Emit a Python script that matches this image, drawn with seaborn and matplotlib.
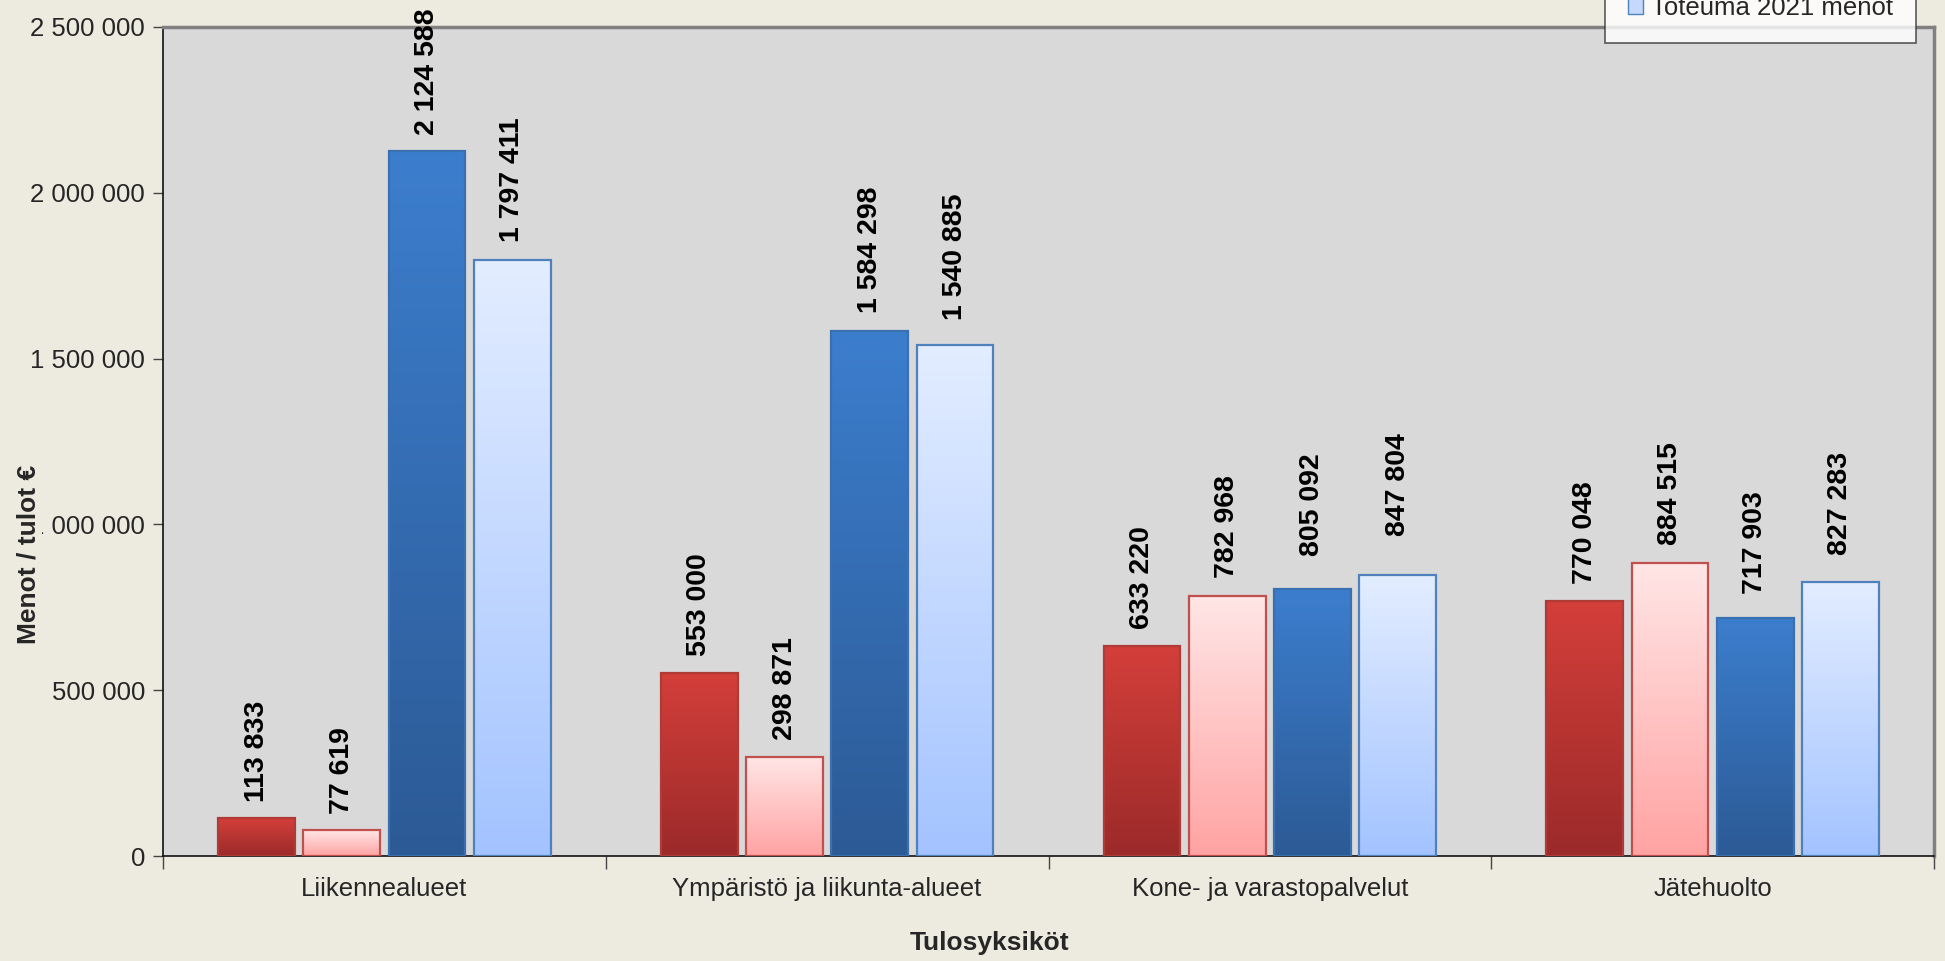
import numpy as np
import pandas as pd
import matplotlib
matplotlib.use("Agg")
import matplotlib.pyplot as plt
import seaborn as sns
from matplotlib.colors import LinearSegmentedColormap
from matplotlib.patches import Patch

categories = ["Liikennealueet", "Ympäristö ja liikunta-alueet",
              "Kone- ja varastopalvelut", "Jätehuolto"]
series = ["Toteuma 2020 tulot", "Toteuma 2021 tulot",
          "Toteuma 2020 menot", "Toteuma 2021 menot"]
tulot_2020 = [113833, 553000, 633220, 770048]
tulot_2021 = [77619, 298871, 782968, 884515]
menot_2020 = [2124588, 1584298, 805092, 717903]
menot_2021 = [1797411, 1540885, 847804, 827283]
yticks = [0, 500000, 1000000, 1500000, 2000000, 2500000]

# gap (points) between each bar top and its value label, as in the original
label_gaps = [[12, 12, 12, 12],
              [12, 12, 13, 13],
              [12, 13, 24, 17],
              [13, 18, 28, 19]]

values = [tulot_2020, tulot_2021, menot_2020, menot_2021]
rows = []
for s, vals in zip(series, values):
    for c, v in zip(categories, vals):
        rows.append({"Tulosyksiköt": c, "value": v, "series": s})
df = pd.DataFrame(rows)

# (top colour, bottom colour, edge colour)
styles = [("#D43F3A", "#9B2A2A", "#B03A36"),
          ("#FFE6E6", "#FFA3A3", "#C0504D"),
          ("#3C7ECE", "#2C5A95", "#3A6FB0"),
          ("#E3EDFF", "#A3C3FF", "#4F81BD")]

sns.set_style("white")
plt.rcParams["font.family"] = ["Liberation Sans", "DejaVu Sans"]

BG = "#EDEBE0"
fig = plt.figure(figsize=(19.45, 9.61), dpi=100, facecolor=BG)
ax = fig.add_axes([163/1945, 1 - 856/961, (1934-163)/1945, (856-27)/961])
ax.set_facecolor("#D9D9D9")

sns.barplot(data=df, x="Tulosyksiköt", y="value", hue="series",
            hue_order=series, order=categories,
            palette=[s[0] for s in styles], width=0.77, gap=0.1,
            saturation=1, legend=False, ax=ax, errorbar=None)

grad = np.linspace(0, 1, 256).reshape(-1, 1)
for si, (cont, (top, bot, edge)) in enumerate(zip(ax.containers, styles)):
    cmap = LinearSegmentedColormap.from_list("g", [bot, top])
    for ci, bar in enumerate(cont):
        x, w, h = bar.get_x(), bar.get_width(), bar.get_height()
        bar.set_facecolor("none")
        bar.set_edgecolor(edge)
        bar.set_linewidth(1.6)
        bar.set_zorder(3)
        im = ax.imshow(grad, extent=[x, x + w, 0, h], origin="lower",
                       cmap=cmap, aspect="auto", zorder=2,
                       interpolation="bilinear")
        im.set_clip_path(bar)
        ax.annotate(f"{h:,.0f}".replace(",", " "), (x + w / 2, h),
                    xytext=(0, label_gaps[si][ci]), textcoords="offset points",
                    rotation=90, ha="center", va="bottom",
                    fontsize=20.5, fontweight="bold", color="black",
                    annotation_clip=False, zorder=5)

ax.set_xlim(-0.5, 3.5)
ax.set_ylim(0, 2500000)
ax.set_yticks(yticks)
ax.set_yticklabels([f"{v:,.0f}".replace(",", " ") for v in yticks])
ax.set_xticks(range(len(categories)))
ax.set_xticklabels(categories)
ax.set_xticks(np.arange(-0.5, 4.0, 1.0), minor=True)
ax.tick_params(axis="x", which="major", length=0, labelsize=18.5, pad=15)
ax.tick_params(axis="x", which="minor", length=9, width=1, color="#444444",
               direction="out", bottom=True)
ax.tick_params(axis="y", length=7, width=1, color="#444444", direction="out",
               left=True, labelsize=18.5, pad=6)

for side in ["left", "bottom"]:
    ax.spines[side].set_color("#111111")
    ax.spines[side].set_linewidth(1.2)
for side in ["top", "right"]:
    ax.spines[side].set_visible(True)
    ax.spines[side].set_color("#808080")
    ax.spines[side].set_linewidth(2.5)

ax.set_xlabel("Tulosyksiköt", fontsize=19, fontweight="bold")
ax.set_ylabel("Menot / tulot €", fontsize=19, fontweight="bold",
              bbox=dict(facecolor=BG, edgecolor="none", pad=1))
ax.yaxis.set_label_coords(-0.069, 0.364)
ax.xaxis.set_label_coords(0.467, -0.09)

handles = [Patch(facecolor=s[0], edgecolor=s[2]) for s in styles]
handles[1] = Patch(facecolor="#FFC8C8", edgecolor=styles[1][2])
handles[3] = Patch(facecolor="#C5D9FF", edgecolor=styles[3][2])
leg = fig.legend(handles, series, loc="lower right",
                 bbox_to_anchor=(1916/1945, 1 - 43/961), borderaxespad=0,
                 fontsize=18.5, frameon=True, fancybox=False,
                 handlelength=0.6, handleheight=0.6, handletextpad=0.3,
                 borderpad=0.9, labelspacing=0.3)
leg.get_frame().set_edgecolor("#333333")
leg.get_frame().set_linewidth(1.2)
leg.get_frame().set_facecolor("white")

fig.savefig("out.png", dpi=100, facecolor=BG)
